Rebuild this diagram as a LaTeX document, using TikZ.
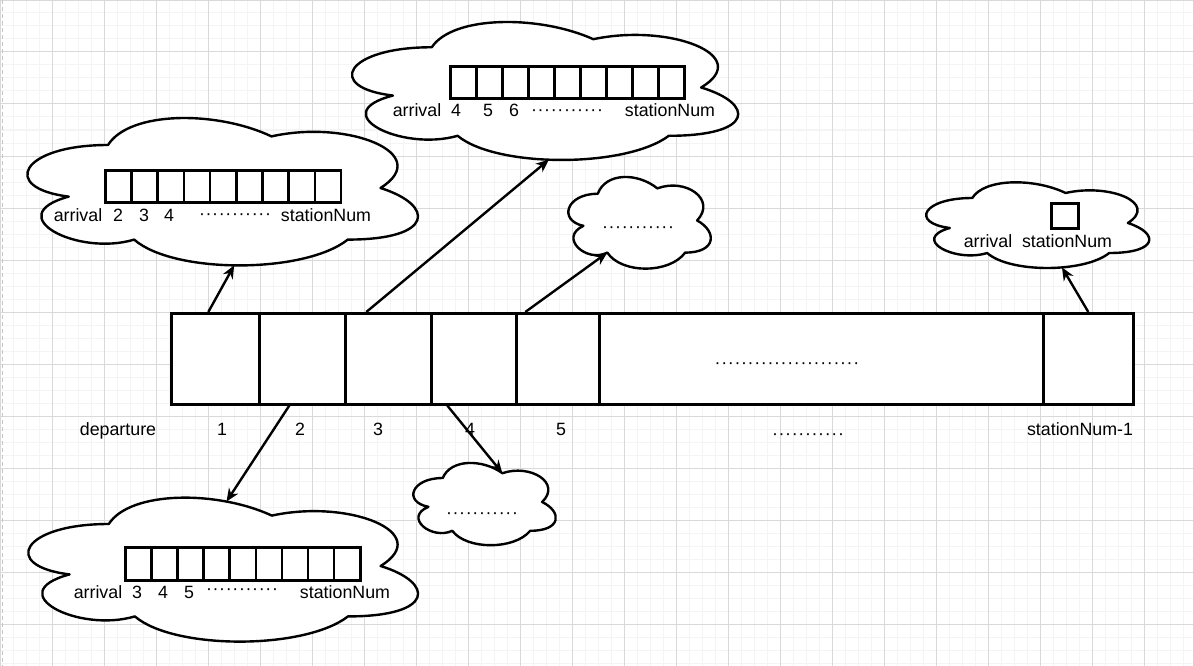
\documentclass[tikz,border=0pt]{standalone}
\usepackage{fontspec}
\setmainfont{Liberation Sans}
\usetikzlibrary{arrows.meta}

% cloud outline in the w x h box whose top left corner is (x0,y0)
\newcommand\drawcloud[6][0.5]{%
  \begin{scope}[shift={(#3,#4)},x=#5pt,y=-#6pt]
    \draw[cloud line] (0.25,0.25) .. controls (0.05,0.25) and (0,0.5) .. (0.16,0.55)
      .. controls (0,0.66) and (0.18,0.9) .. (0.31,0.8)
      .. controls (0.4,1) and (0.7,1) .. coordinate[pos=#1] (#2-s) (0.8,0.8)
      .. controls (1,0.8) and (1,0.6) .. (0.875,0.5)
      .. controls (1,0.3) and (0.8,0.1) .. (0.625,0.2)
      .. controls (0.5,0.05) and (0.3,0.05) .. coordinate[pos=0.25] (#2-n) (0.25,0.25)
      -- cycle;
    \coordinate (#2-sw) at (0.31,0.8);
    \coordinate (#2-ne) at (0.625,0.2);
  \end{scope}}
\newcommand\dotrow[1]{\foreach \k in {1,...,#1}{\makebox[6.6pt]{·}}}

\begin{document}
\begin{tikzpicture}[x=1pt,y=-1pt]
		\tikzstyle{cloud line}=[draw=black,fill=white,line width=2.4pt,line join=round]
		\tikzstyle{cell}=[draw,fill=white,line width=2.6pt,minimum height=91pt,inner sep=0pt,anchor=north west]
		\tikzstyle{slot}=[draw,fill=white,line width=2.6pt,inner sep=0pt,anchor=north west]
		\tikzstyle{lbl}=[font=\fontsize{17.8}{21}\selectfont,anchor=base,inner sep=0pt]
		\tikzstyle{arr}=[-{Stealth[length=13pt,width=11pt]},line width=2.4pt]
		\useasboundingbox (0,0) rectangle (1193,666);
		
		% Background grid
		\fill[white] (0,0) rectangle (1193,666);
		\draw[gray!9,line width=1pt,step=13pt] (0,0) grid (1193,666);
		\draw[gray!30,line width=1pt,step=52pt] (0,0) grid (1193,666);
		\draw[gray!45,line width=1pt,dash pattern=on 4pt off 3pt] (2,0) -- (2,666);
		
		% Draw the departure bar
		\foreach \name/\xa/\xb in {c1/170/258,c2/258/344,c3/344/430,c4/430/515,c5/515/598,cm/598/1042,cn/1042/1132}
		\node[cell,minimum width={(\xb-\xa)*1pt}] (\name) at (\xa,312) {};
		
		% Draw the clouds
		\drawcloud[0.45]{A}{324}{7}{431}{161}
		\drawcloud[0.48]{B}{-1}{102}{436}{172}
		\drawcloud{C}{0}{482}{435}{168}
		\drawcloud{D}{403}{454}{159}{96}
		\drawcloud{E}{558}{167}{159}{107}
		\drawcloud[0.6]{F}{910}{173}{249}{100}
		
		% Draw the arrival slots in the clouds
		\foreach \i in {1,...,9}
		\node[slot,minimum width=26pt,minimum height=32pt] (A-\i) at ({449+(\i-1)*26},65) {};
		\foreach \i in {1,...,9}
		\node[slot,minimum width=26.2pt,minimum height=32pt] (B-\i) at ({104+(\i-1)*26.2},169) {};
		\foreach \i in {1,...,9}
		\node[slot,minimum width=26.1pt,minimum height=33pt] (C-\i) at ({124+(\i-1)*26.1},546) {};
		\node[slot,minimum width=27pt,minimum height=25pt] (F-1) at (1050,202) {};
		
		% Connect the departures with their clouds
		\draw[arr] ([xshift=-7pt]c1.north) -- (B-s);
		\draw[arr] ([xshift=-22pt]c3.north) -- (A-s);
		\draw[arr] ([xshift=-32.5pt]c5.north) -- (E-sw);
		\draw[arr] (cn.north) -- (F-s);
		\draw[arr] ([xshift=-13pt]c2.south) -- (C-n);
		\draw[arr] ([xshift=-26.5pt]c4.south) -- (D-ne);
		
		% Annotate the departures
		\node[lbl] (dep) at (118,435) {departure};
		\foreach \name/\x/\t in {d1/222/1,d2/300/2,d3/378/3,d4/470/4,d5/561/5}
		\node[lbl] (\name) at (\x,435) {\t};
		\node[lbl] (dlast) at (1080,435) {stationNum-1};
		\node[lbl] (ddots) at (808,439) {\dotrow{11}};
		\node[lbl] (mdots) at (787,368) {\dotrow{22}};
		
		% Annotate the clouds
		\node[lbl] (A-arr) at (417,117) {arrival};
		\foreach \name/\x/\t in {A-a/456/4,A-b/488/5,A-c/514/6}
		\node[lbl] (\name) at (\x,117) {\t};
		\node[lbl] (A-dots) at (567,116) {\dotrow{11}};
		\node[lbl] (A-end) at (670,117) {stationNum};
		
		\node[lbl] (B-arr) at (78,221) {arrival};
		\foreach \name/\x/\t in {B-a/118/2,B-b/144/3,B-c/169/4}
		\node[lbl] (\name) at (\x,221) {\t};
		\node[lbl] (B-dots) at (235,219) {\dotrow{11}};
		\node[lbl] (B-end) at (326,221) {stationNum};
		
		\node[lbl] (C-arr) at (98,598) {arrival};
		\foreach \name/\x/\t in {C-a/137/3,C-b/163/4,C-c/189/5}
		\node[lbl] (\name) at (\x,598) {\t};
		\node[lbl] (C-dots) at (242,594) {\dotrow{11}};
		\node[lbl] (C-end) at (345,598) {stationNum};
		
		\node[lbl] (D-dots) at (482,518) {\dotrow{11}};
		\node[lbl] (E-dots) at (638,232) {\dotrow{11}};
		
		\node[lbl] (F-arr) at (988,247) {arrival};
		\node[lbl] (F-end) at (1067,247) {stationNum};
	\end{tikzpicture}
\end{document}
